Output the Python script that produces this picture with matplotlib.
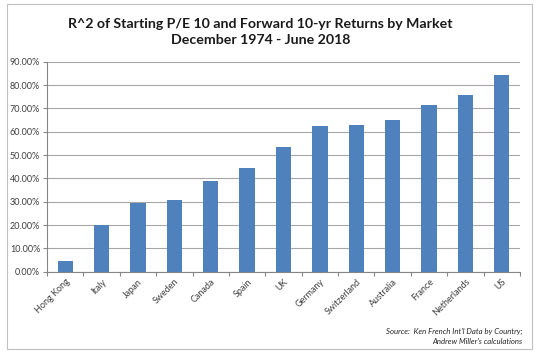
import matplotlib
matplotlib.use("Agg")
import matplotlib.pyplot as plt
from matplotlib.patches import Rectangle
from matplotlib.ticker import FuncFormatter, MultipleLocator

markets = ["Hong Kong", "Italy", "Japan", "Sweden", "Canada", "Spain", "UK",
           "Germany", "Switzerland", "Australia", "France", "Netherlands", "US"]
r2 = [0.048, 0.201, 0.294, 0.306, 0.387, 0.446, 0.534,
      0.626, 0.630, 0.649, 0.713, 0.756, 0.844]

title = "R^2 of Starting P/E 10 and Forward 10-yr Returns by Market\nDecember 1974 - June 2018"
source = "Source:  Ken French Int'l Data by Country;\nAndrew Miller's calculations"

plt.rcParams['font.family'] = ['Lato', 'DejaVu Sans']

fig = plt.figure(figsize=(5.37, 3.57), dpi=100)
fig.patch.set_facecolor("white")
ax = fig.add_axes([47/537, 1-271.7/357, (520-47)/537, (271.7-61.7)/357])

x = range(len(markets))
ax.bar(x, r2, width=0.42, color="#4F81BD", zorder=3)
ax.set_xlim(-0.5, len(markets)-0.5)
ax.set_ylim(0, 0.9)
ax.yaxis.set_major_locator(MultipleLocator(0.1))
ax.yaxis.set_major_formatter(FuncFormatter(lambda v, p: f"{v*100:.2f}%"))
ax.grid(axis="y", color="#A6A6A6", linewidth=0.8, zorder=0)
ax.set_xticks([i + 0.5 for i in range(-1, len(markets))], minor=False)
ax.set_xticklabels([])
ax.set_xticks(list(x), minor=True)
ax.set_xticklabels(markets, minor=True, rotation=45, ha="right", rotation_mode="anchor",
                   fontsize=6.5, color="#404040")
ax.tick_params(axis="x", which="minor", length=0, pad=4)
ax.tick_params(axis="x", which="major", length=3, color="#868686", width=0.8)
ax.tick_params(axis="y", length=3, color="#868686", width=0.8, labelsize=6.5,
               labelcolor="#404040", pad=2)
for s in ["top", "right"]:
    ax.spines[s].set_visible(False)
for s in ["left", "bottom"]:
    ax.spines[s].set_color("#868686")
    ax.spines[s].set_linewidth(0.8)

fig.text(0.485, 1-32/357, title, ha="center", va="center", fontsize=10.2,
         fontweight="bold", color="#1a1a1a", linespacing=1.4)
fig.text(522/537, 1-336.5/357, source, ha="right", va="center", fontsize=5.6,
         style="italic", color="#262626", linespacing=1.5)

fig.patches.append(Rectangle((7/537, 1-349/357), (532-7)/537, (349-4)/357,
                             transform=fig.transFigure, fill=False,
                             edgecolor="#BFBFBF", linewidth=0.8))

fig.savefig("out.png", dpi=100)
